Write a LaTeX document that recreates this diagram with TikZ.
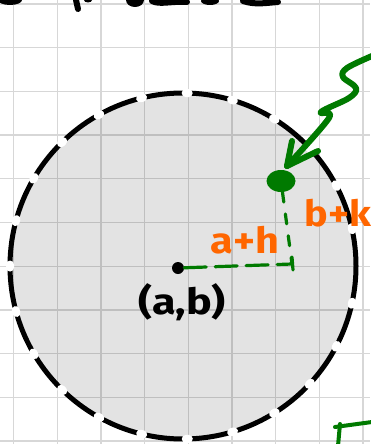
\documentclass[tikz,border=0pt]{standalone}
\usepackage{fontspec}
\setsansfont{Fira Sans}
\usetikzlibrary{shapes.geometric}
\definecolor{pen}{RGB}{0,122,0}
\definecolor{orng}{RGB}{255,102,0}
\definecolor{gridc}{RGB}{215,215,215}
\tikzset{
  gridline/.style={draw=gridc, line width=1.3pt},
  greenstroke/.style={draw=pen, line width=6pt, line cap=round, line join=round},
  greendash/.style={draw=pen, line width=3.2pt, line cap=round},
  ink/.style={draw=black, line width=6pt, line cap=round},
  hand/.style={font=\sffamily\bfseries\fontsize{36}{38}\selectfont, inner sep=0pt},
}
\begin{document}
\begin{tikzpicture}[x=1pt,y=-1pt]
\useasboundingbox (0,0) rectangle (370,444);
\fill[white] (0,0) rectangle (370,444);
% grid
\foreach \i in {0,...,8} \draw[gridline] ({13.5+43.7*\i},0) -- ({13.5+43.7*\i},444);
\foreach \j in {0,...,10} \draw[gridline] (0,{4+43.7*\j}) -- (370,{4+43.7*\j});
% disk
\fill[black, fill opacity=0.11] (183,266) circle[radius=173];
\draw[black, line width=5pt] (183,266) circle[radius=173];
\draw[white, line width=8pt, line cap=round, dash pattern=on 3pt off 43pt, dash phase=10pt] (183,266) circle[radius=173];
% top handwriting fragments
\fill[black] (10,0) ellipse[x radius=12, y radius=5];
\draw[ink] (76,0) -- (78,9);
\fill[black] (88,0) ellipse[x radius=4, y radius=2.5];
\fill[black] (135,0) ellipse[x radius=9, y radius=7];
\draw[ink] (152,1) .. controls (160,5) and (170,1) .. (187,2);
\fill[black] (210,1) ellipse[x radius=9, y radius=4];
\draw[ink] (243,1) .. controls (255,5) and (265,3) .. (278,2);
% centre point and labels
\node[circle, fill=black, minimum size=12pt, inner sep=0pt] (c) at (178,268) {};
\node[hand, text=black] (ab) at (182,302) {\scalebox{1.2}[1]{(a,b)}};
\node[pen, ellipse, fill=pen, minimum width=29pt, minimum height=22pt, inner sep=0pt] (p) at (281,181) {};
\coordinate (corner) at (292,264);
\coordinate (tickt) at (292,257);
\coordinate (tickb) at (293,270);
\draw[greendash, dash pattern=on 22pt off 9pt] (c) -- (corner);
\draw[greendash] (tickt) -- (tickb);
\draw[greendash, dash pattern=on 10pt off 12pt] (p) -- (corner);
\node[hand, text=orng] (ah) at (245,240) {\scalebox{1.15}[1]{a+h}};
\node[hand, text=orng] (bk) at (338,213) {\scalebox{1.1}[1]{b+k}};
% squiggle arrow
\coordinate (s0) at (372,56);
\coordinate (tip) at (287,166);
\draw[greenstroke] plot[smooth, tension=0.6] coordinates {(372,56) (347,68) (343,77) (356,88) (349,98) (321,112) (329,118) (287,166)};
\draw[greenstroke] (tip) -- (292,141);
\draw[greenstroke] (tip) -- (318,151);
% bottom right fragment
\coordinate (f1) at (335,427);
\coordinate (f2) at (372,422);
\coordinate (f3) at (340,424);
\coordinate (f4) at (338,446);
\draw[greenstroke, line width=4pt] (f1) -- (f2);
\draw[greenstroke, line width=4pt] (f3) -- (f4);
\end{tikzpicture}
\end{document}
